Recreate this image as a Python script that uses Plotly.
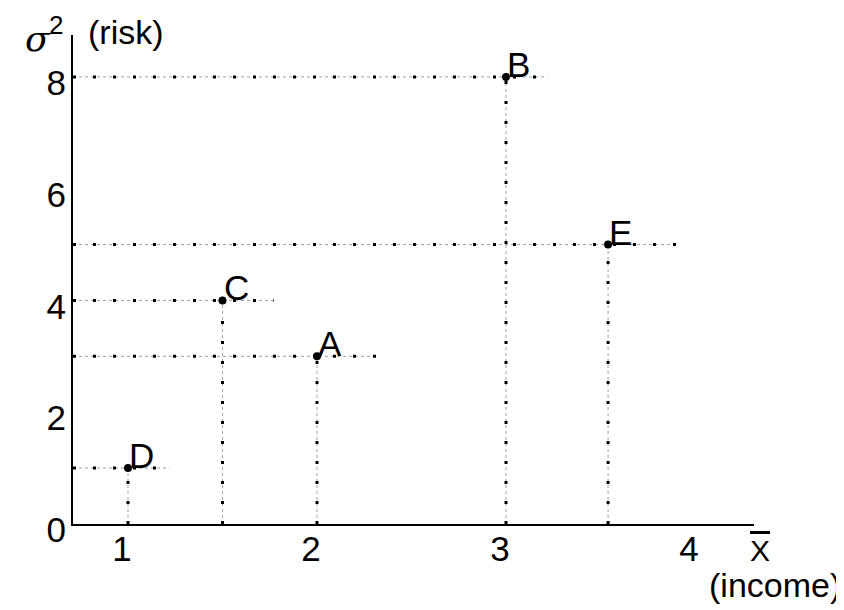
import plotly.graph_objects as go

# ---- data ----
labels = ["A", "B", "C", "D", "E"]
income = [2.0, 3.0, 1.5, 1.0, 3.54]      # X-bar
risk = [3, 8, 4, 1, 5]                    # sigma^2
guide_end = [2.32, 3.22, 1.77, 1.22, 3.90]  # right end of horizontal guide lines
x_ticks = [1, 2, 3, 4]
y_ticks = [0, 2, 4, 6, 8]

X_RANGE = [0.709, 4.312]
Y_RANGE = [0, 8.75]

FONT = "Liberation Sans, Arial, sans-serif"
FS = 35

# build guide line paths from the data
gx, gy = [], []
for xi, yi, xe in zip(income, risk, guide_end):
    gx += [X_RANGE[0], xe, None, xi, xi, None]
    gy += [yi, yi, None, 0, yi, None]

fig = go.Figure()
fig.add_trace(go.Scatter(x=gx, y=gy, mode="lines", hoverinfo="skip",
                         line=dict(color="#a0a0a0", width=1, dash="3px,3px")))
fig.add_trace(go.Scatter(x=gx, y=gy, mode="lines", hoverinfo="skip",
                         line=dict(color="#000000", width=3, dash="3px,17px")))
fig.add_trace(go.Scatter(x=income, y=risk, mode="markers",
                         marker=dict(color="black", size=8)))

for lab, xi, yi in zip(labels, income, risk):
    fig.add_annotation(x=xi, y=yi, text=lab, showarrow=False,
                       xanchor="left", yanchor="bottom", xshift=-1, yshift=-9,
                       font=dict(family=FONT, size=FS, color="black"))

# axis titles
fig.add_annotation(xref="paper", yref="paper", x=0, y=1, xanchor="right", yanchor="middle",
                   xshift=-20, yshift=-3, showarrow=False, text="<i>σ</i>",
                   font=dict(family="DejaVu Serif, serif", size=36, color="black"))
fig.add_annotation(xref="paper", yref="paper", x=0, y=1, xanchor="right", yanchor="top",
                   xshift=-8, yshift=27, showarrow=False, text="2",
                   font=dict(family=FONT, size=26, color="black"))
fig.add_annotation(xref="paper", yref="paper", x=0, y=1, xanchor="left", yanchor="middle",
                   xshift=13, yshift=3, showarrow=False, text="(risk)",
                   font=dict(family=FONT, size=34, color="black"))
fig.add_annotation(xref="paper", yref="paper", x=1, y=0, xanchor="center", yanchor="middle",
                   xshift=6, yshift=-26, showarrow=False,
                   text="<span style='text-decoration:overline'>X</span>",
                   font=dict(family=FONT, size=30, color="black"))
fig.add_annotation(xref="paper", yref="paper", x=1, y=0, xanchor="right", yanchor="middle",
                   xshift=89, yshift=-61, showarrow=False, text="(income)",
                   font=dict(family=FONT, size=34, color="black"))

fig.update_layout(
    width=844, height=610,
    margin=dict(l=65, r=98, t=27, b=94, autoexpand=False),
    paper_bgcolor="white", plot_bgcolor="white",
    showlegend=False,
    font=dict(family=FONT, size=FS, color="black"),
)
fig.update_xaxes(range=X_RANGE, tickvals=x_ticks, ticktext=[str(v) for v in x_ticks],
                 showgrid=False, zeroline=False, showline=True, linecolor="black",
                 linewidth=2, ticks="", ticklabelshift=-6, ticklabelstandoff=-7,
                 automargin=False,
                 tickfont=dict(family=FONT, size=FS, color="black"))
fig.update_yaxes(range=Y_RANGE, tickvals=y_ticks, ticktext=[str(v) for v in y_ticks],
                 showgrid=False, zeroline=False, showline=True, linecolor="black",
                 linewidth=2, ticks="", ticklabelshift=6, ticklabelstandoff=-2,
                 automargin=False,
                 tickfont=dict(family=FONT, size=FS, color="black"))

fig.write_html("out.html")
